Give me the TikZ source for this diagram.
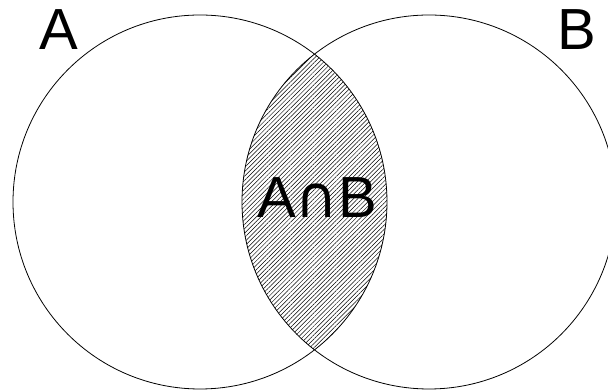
\documentclass[tikz,border=0pt]{standalone}
\usepackage{fontspec}
\setmainfont{Liberation Sans}
\newfontfamily\capfont{DejaVu Sans}
\usetikzlibrary{patterns.meta}

\begin{document}
\begin{tikzpicture}[
    x=1pt, y=1pt,
    set/.style={draw, circle, line width=0.8pt, minimum size=374pt, inner sep=0pt},
    setlabel/.style={inner sep=0pt, font=\fontsize{58}{60}\selectfont},
    hatch/.style={pattern={Lines[angle=45, distance=3.1pt, line width=0.5pt]}}
]
    \useasboundingbox (0,0) rectangle (608,390);
    % shaded overlap of the two sets
    \begin{scope}
        \clip (200,188) circle (187pt);
        \fill [hatch] (429,188) circle (187pt);
    \end{scope}
    \node [set] (setA) at (200,188) {};
    \node [set] (setB) at (429,188) {};
    \node [setlabel] (labelA) at (59,360) {A};
    \node [setlabel] (labelB) at (577,360) {B};
    \node [setlabel] (labelAB) at (317,192) {A{\capfont ∩}B};
\end{tikzpicture}
\end{document}
